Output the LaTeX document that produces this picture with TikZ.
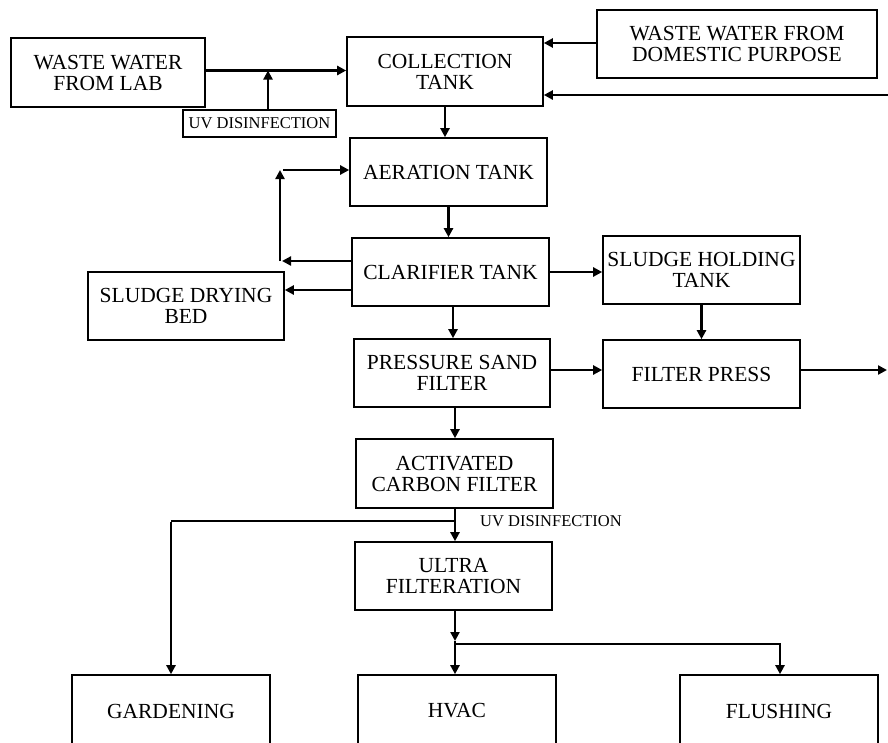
\documentclass[tikz,border=0pt]{standalone}
\usepackage{fontspec}
\setmainfont{Liberation Serif}
\usetikzlibrary{arrows.meta,calc}
\tikzset{
  box/.style={draw, line width=1.6pt, align=center, inner sep=0pt, font=\fontsize{21.5}{21}\selectfont},
  uvbox/.style={draw, line width=1.4pt, inner sep=0pt, font=\fontsize{16.5}{17}\selectfont},
  uvtext/.style={inner sep=0pt, font=\fontsize{16.5}{17}\selectfont},
  arr/.style={line width=2.8pt, -{Triangle[length=9pt,width=9pt]}},
  thin/.style={line width=1.8pt}
}
\begin{document}
\begin{tikzpicture}[x=1pt,y=-1pt]
\useasboundingbox (0,0) rectangle (888,742);
\clip (0,0) rectangle (888,742);
% boxes
\node[box, minimum width=194pt, minimum height=69pt] (lab) at (108,72.5) {WASTE WATER\\FROM LAB};
\node[uvbox, minimum width=153pt, minimum height=27pt] (uv1) at (259.5,123.5) {UV DISINFECTION};
\node[box, minimum width=196pt, minimum height=69pt] (coll) at (445,71.5) {COLLECTION\\TANK};
\node[box, minimum width=280pt, minimum height=68pt] (dom) at (737,44) {WASTE WATER FROM\\DOMESTIC PURPOSE};
\node[box, minimum width=197pt, minimum height=68pt] (aer) at (448.5,172) {AERATION TANK};
\node[box, minimum width=197pt, minimum height=68pt] (clar) at (450.5,272) {CLARIFIER TANK};
\node[box, minimum width=196pt, minimum height=68pt] (dry) at (186,306) {SLUDGE DRYING\\BED};
\node[box, minimum width=197pt, minimum height=68pt] (hold) at (701.5,270) {SLUDGE HOLDING\\TANK};
\node[box, minimum width=197pt, minimum height=68pt] (fp) at (701.5,374) {FILTER PRESS};
\node[box, minimum width=196pt, minimum height=68pt] (psf) at (452,373) {PRESSURE SAND\\FILTER};
\node[box, minimum width=197pt, minimum height=69pt] (acf) at (454.5,473.5) {ACTIVATED\\CARBON FILTER};
\node[box, minimum width=197pt, minimum height=68pt] (uf) at (453.5,576) {ULTRA\\FILTERATION};
\node[box, minimum width=198pt, minimum height=72pt] (gard) at (171,711) {GARDENING};
\node[box, minimum width=198pt, minimum height=72pt] (hvac) at (457,711) {HVAC};
\node[box, minimum width=198pt, minimum height=72pt] (flush) at (779,711) {FLUSHING};
\node[uvtext] (uv2) at (551,521) {UV DISINFECTION};
% coordinates
\coordinate (r1) at (888,95);
\coordinate (r2) at (887,370);
\coordinate (cl) at (280,261);
\coordinate (cu) at (280,170);
\coordinate (jg) at (455,521);
\coordinate (gc) at (171,521);
\coordinate (jh) at (455,641);
\coordinate (jf) at (455,644);
\coordinate (fc) at (780,644);
% connectors
\draw[arr] ([yshift=2pt]lab.east) -- ([yshift=2pt]lab.east -| coll.west);
\draw[arr] ([xshift=8.5pt]uv1.north) -- ([xshift=8.5pt,yshift=2pt]uv1.north |- lab.east);
\draw[arr] ([yshift=1pt]dom.west) -- ([yshift=1pt]dom.west -| coll.east);
\draw[arr] (r1) -- (r1 -| coll.east);
\draw[arr] (coll.south) -- (coll.south |- aer.north);
\draw[arr] (aer.south) -- (aer.south |- clar.north);
\draw[arr] (clar.west |- cl) -- ([xshift=2pt]cl);
\draw[arr] (cl) -- (cu);
\draw[arr] ([xshift=3pt]cu) -- (cu -| aer.west);
\draw[arr] (clar.west |- 0,290) -- (dry.east |- 0,290);
\draw[arr] (clar.east) -- (clar.east -| hold.west);
\draw[arr] (hold.south) -- (hold.south |- fp.north);
\draw[arr] ([yshift=4pt]fp.east) -- (r2);
\draw[arr] ([xshift=2.5pt]clar.south) -- ([xshift=2.5pt]clar.south |- psf.north);
\draw[arr] ([yshift=3pt]psf.east) -- ([yshift=3pt]psf.east -| fp.west);
\draw[arr] ([xshift=3pt]psf.south) -- ([xshift=3pt]psf.south |- acf.north);
\draw[arr] (acf.south -| jg) -- (jg |- uf.north);
\draw[thin] (jg) -- (gc);
\draw[arr] ([yshift=-0.9pt]gc) -- (gc |- gard.north);
\draw[arr] (uf.south -| jh) -- (jh);
\draw[arr] (jh) -- (jh |- hvac.north);
\draw[thin] (jf) -- (fc);
\draw[arr] ([yshift=0.9pt]fc) -- (fc |- flush.north);
\end{tikzpicture}
\end{document}
